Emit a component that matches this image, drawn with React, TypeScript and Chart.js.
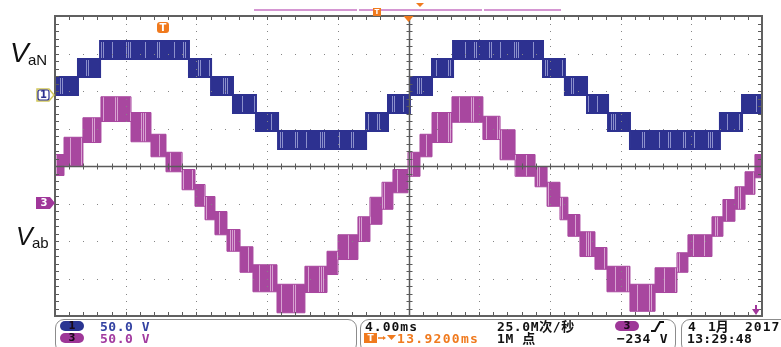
import React, { useEffect, useRef } from 'react';
import { Chart, registerables } from 'chart.js';
Chart.register(...registerables);

// time axis: ms, 4 ms/div, 10 divisions
const X_MIN = 0;
const X_MAX = 40;
// channel 1 (VaN) and channel 3 (Vab): 50 V/div, 8 divisions, offsets set by range
const CH1_MIN = -294.7;
const CH1_MAX = 105.3;
const CH3_MIN = -151.3;
const CH3_MAX = 248.7;

// Ch1 VaN: staircase bands (start time ms, lower / upper level V)
const blueT = [0, 1.3, 2.55, 7.58, 8.83, 10.07, 11.37, 12.62, 17.6, 18.84, 20.08, 21.33, 22.52, 27.61, 28.85, 30.1, 31.29, 32.53, 37.62, 38.87];
const blueLo = [0, 24, 48, 24, 0, -24, -48, -72, -48, -24, 0, 24, 48, 24, 0, -24, -48, -72, -48, -24];
const blueHi = [24, 48, 72, 48, 24, 0, -24, -48, -24, 0, 24, 48, 72, 48, 24, 0, -24, -48, -24, 0];

// Ch3 Vab: staircase bands
const purpleT = [0, 0.51, 1.58, 2.6, 4.3, 5.43, 6.28, 7.19, 7.92, 8.49, 9.05, 9.73, 10.47, 11.2, 12.56, 14.14, 15.39, 16.01, 17.14, 17.82, 18.5, 19.12,
  19.97, 20.65, 21.33, 22.46, 24.21, 25.18, 26.03, 27.16, 27.84, 28.57, 29.02, 29.7, 30.55, 31.23, 32.53, 33.95, 35.19, 35.81, 37.17, 37.79, 38.47, 39.04, 39.6];
const purpleHi = [64, 87, 113, 141, 120, 91, 67, 44, 24, 8, -12, -36, -59, -83, -109, -85, -65, -43, -19, 7, 27, 44,
  67, 91, 120, 141, 115, 97, 64, 48, 27, 7, -16, -39, -60, -85, -109, -87, -67, -43, -19, 4, 21, 41, 64];
const purpleLo = [36, 49, 80, 108, 81, 61, 41, 17, -5, -23, -43, -65, -93, -119, -147, -120, -96, -76, -52, -29, -9, 13,
  35, 61, 80, 107, 84, 57, 35, 21, -5, -23, -45, -72, -89, -119, -145, -120, -93, -72, -45, -25, -9, 11, 33];

const BLUE = '#2d3190';
const BLUE_LIGHT = '#8c90cc';
const PURPLE = '#a8479f';
const PURPLE_LIGHT = '#d8a2d2';
const ORANGE = '#f07a1e';

function stepPoints(t: number[], v: number[]) {
  const pts = t.map((x, i) => ({ x, y: v[i] }));
  pts.push({ x: X_MAX, y: v[v.length - 1] });
  return pts;
}

function stripePattern(ctx: CanvasRenderingContext2D, base: string, light: string, width: number, offsets: number[]) {
  const c = document.createElement('canvas');
  c.width = width;
  c.height = 4;
  const g = c.getContext('2d')!;
  g.fillStyle = base;
  g.fillRect(0, 0, width, 4);
  g.fillStyle = light;
  offsets.forEach((o) => g.fillRect(o, 0, 1, 4));
  return ctx.createPattern(c, 'repeat');
}

const graticule = {
  id: 'graticule',
  afterDatasetsDraw(chart: any) {
    const { ctx, chartArea: a } = chart;
    const L = a.left, R = a.right, T = a.top, B = a.bottom;
    const dx = (R - L) / 10, dy = (B - T) / 8;
    ctx.save();
    ctx.fillStyle = '#858585';
    for (let i = 1; i < 10; i++) {
      if (i === 5) continue;
      const x = Math.round(L + i * dx);
      for (let j = 1; j < 40; j++) ctx.fillRect(x, Math.round(T + (j * dy) / 5), 1, 1);
    }
    for (let j = 1; j < 8; j++) {
      if (j === 4) continue;
      const y = Math.round(T + j * dy);
      for (let i = 1; i < 50; i++) ctx.fillRect(Math.round(L + (i * dx) / 5), y, 1, 1);
    }
    const line = (x1: number, y1: number, x2: number, y2: number) => {
      ctx.beginPath();
      ctx.moveTo(x1, y1);
      ctx.lineTo(x2, y2);
      ctx.stroke();
    };
    const cx = Math.round((L + R) / 2) + 0.5;
    const cy = Math.round((T + B) / 2) + 0.5;
    ctx.strokeStyle = '#5a5a5a';
    ctx.lineWidth = 1.5;
    line(cx, T, cx, B);
    line(L, cy, R, cy);
    ctx.lineWidth = 1;
    for (let i = 1; i < 50; i++) {
      const x = Math.round(L + (i * dx) / 5) + 0.5;
      line(x, cy - 3, x, cy + 3);
      line(x, T, x, T + 4);
      line(x, B - 4, x, B);
    }
    for (let j = 1; j < 40; j++) {
      const y = Math.round(T + (j * dy) / 5) + 0.5;
      line(cx - 3, y, cx + 3, y);
      line(L, y, L + 4, y);
      line(R - 4, y, R, y);
    }
    ctx.strokeStyle = '#606060';
    ctx.lineWidth = 2;
    ctx.strokeRect(L, T, R - L, B - T);
    ctx.restore();
  },
};

const markers = {
  id: 'markers',
  afterDraw(chart: any) {
    const { ctx } = chart;
    const y1 = Math.round(chart.scales.y1.getPixelForValue(0));
    const y3 = Math.round(chart.scales.y3.getPixelForValue(0));
    ctx.save();
    // channel 1 marker
    ctx.beginPath();
    ctx.moveTo(37, y1 - 6);
    ctx.lineTo(49, y1 - 6);
    ctx.lineTo(54, y1);
    ctx.lineTo(49, y1 + 6);
    ctx.lineTo(37, y1 + 6);
    ctx.closePath();
    ctx.fillStyle = '#ffffff';
    ctx.fill();
    ctx.strokeStyle = '#d2c85a';
    ctx.lineWidth = 1.5;
    ctx.stroke();
    ctx.beginPath();
    ctx.roundRect(38, y1 - 5, 11, 10, 2);
    ctx.strokeStyle = BLUE;
    ctx.lineWidth = 1.2;
    ctx.stroke();
    ctx.fillStyle = BLUE;
    ctx.font = 'bold 10px "DejaVu Sans"';
    ctx.textAlign = 'center';
    ctx.textBaseline = 'middle';
    ctx.fillText('1', 43.5, y1 + 0.5);
    // channel 3 marker
    ctx.beginPath();
    ctx.moveTo(36, y3 - 6);
    ctx.lineTo(50, y3 - 6);
    ctx.lineTo(55, y3);
    ctx.lineTo(50, y3 + 6);
    ctx.lineTo(36, y3 + 6);
    ctx.closePath();
    ctx.fillStyle = '#a0369a';
    ctx.fill();
    ctx.fillStyle = '#ffffff';
    ctx.fillText('3', 44, y3 + 0.5);
    // trigger level marker (ch3, below screen)
    const a = chart.chartArea;
    ctx.beginPath();
    ctx.moveTo(a.right - 10, a.bottom - 7);
    ctx.lineTo(a.right - 2, a.bottom - 7);
    ctx.lineTo(a.right - 6, a.bottom - 1);
    ctx.closePath();
    ctx.fillStyle = '#a0369a';
    ctx.fill();
    ctx.fillRect(a.right - 7, a.bottom - 11, 2, 5);
    // trigger position marker
    const xt = chart.scales.x.getPixelForValue((X_MIN + X_MAX) / 2);
    ctx.beginPath();
    ctx.moveTo(xt - 5, a.top);
    ctx.lineTo(xt + 5, a.top);
    ctx.lineTo(xt, a.top + 6);
    ctx.closePath();
    ctx.fillStyle = ORANGE;
    ctx.fill();
    ctx.restore();
  },
};

const mono = '"DejaVu Sans Mono", "Noto Sans CJK SC", monospace';

function Txt(p: { x: number; y: number; c: string; s: string; ls?: number }) {
  return (
    <div
      style={{
        position: 'absolute',
        left: p.x,
        top: p.y,
        color: p.c,
        font: `bold 13px ${mono}`,
        lineHeight: '13px',
        letterSpacing: (p.ls ?? 0) + 'px',
        whiteSpace: 'pre',
      }}
    >
      {p.s}
    </div>
  );
}

function Oval(p: { x: number; y: number; fill: string; s: string }) {
  return (
    <div
      style={{
        position: 'absolute',
        left: p.x,
        top: p.y,
        width: 24,
        height: 10,
        borderRadius: 5,
        background: p.fill,
        color: '#1a0a1a',
        font: 'bold 10px "DejaVu Sans"',
        lineHeight: '10px',
        textAlign: 'center',
      }}
    >
      {p.s}
    </div>
  );
}

export default function App() {
  const ref = useRef<HTMLCanvasElement>(null);
  useEffect(() => {
    const canvas = ref.current!;
    const ctx = canvas.getContext('2d')!;
    const bluePat = stripePattern(ctx, BLUE, BLUE_LIGHT, 97, [4, 6, 15, 29, 31, 33, 48, 60, 62, 77, 86, 88]);
    const purplePat = stripePattern(ctx, PURPLE, PURPLE_LIGHT, 89, [3, 5, 14, 26, 28, 41, 52, 54, 56, 70, 81]);
    const chart = new Chart(canvas, {
      type: 'line',
      data: {
        datasets: [
          { label: 'VaN hi', data: stepPoints(blueT, blueHi), yAxisID: 'y1', stepped: true, borderColor: BLUE, borderWidth: 2, pointRadius: 0, fill: false },
          { label: 'VaN lo', data: stepPoints(blueT, blueLo), yAxisID: 'y1', stepped: true, borderColor: BLUE, borderWidth: 2, pointRadius: 0, fill: '-1', backgroundColor: bluePat as any },
          { label: 'Vab hi', data: stepPoints(purpleT, purpleHi), yAxisID: 'y3', stepped: true, borderColor: PURPLE, borderWidth: 1, pointRadius: 0, fill: false },
          { label: 'Vab lo', data: stepPoints(purpleT, purpleLo), yAxisID: 'y3', stepped: true, borderColor: PURPLE, borderWidth: 1, pointRadius: 0, fill: '-1', backgroundColor: purplePat as any },
        ],
      },
      options: {
        responsive: false,
        animation: false,
        events: [],
        layout: { padding: { left: 55, top: 16, right: 19, bottom: 31 } },
        plugins: { legend: { display: false }, tooltip: { enabled: false } },
        scales: {
          x: { type: 'linear', min: X_MIN, max: X_MAX, display: false },
          y1: { type: 'linear', min: CH1_MIN, max: CH1_MAX, display: false },
          y3: { type: 'linear', min: CH3_MIN, max: CH3_MAX, display: false },
        },
      },
      plugins: [graticule, markers],
    });
    return () => chart.destroy();
  }, []);

  const box = (x: number, w: number) => (
    <div
      style={{
        position: 'absolute',
        left: x,
        top: 319,
        width: w,
        height: 34,
        border: '1px solid #8c8c8c',
        borderRadius: 9,
        boxSizing: 'border-box',
      }}
    />
  );

  return (
    <div style={{ position: 'fixed', left: 0, top: 0, width: 781, height: 347, background: '#fff', overflow: 'hidden' }}>
      <canvas ref={ref} width={781} height={347} style={{ position: 'absolute', left: 0, top: 0 }} />
      {/* memory bar */}
      <div style={{ position: 'absolute', left: 254, top: 9, width: 103, height: 2, background: '#d596d2' }} />
      <div style={{ position: 'absolute', left: 359, top: 9, width: 123, height: 2, background: '#d596d2' }} />
      <div style={{ position: 'absolute', left: 484, top: 9, width: 77, height: 2, background: '#d596d2' }} />
      <div style={{ position: 'absolute', left: 373, top: 8, width: 8, height: 8, background: ORANGE, color: '#fff', font: 'bold 7px "DejaVu Sans"', lineHeight: '8px', textAlign: 'center' }}>T</div>
      <svg style={{ position: 'absolute', left: 416, top: 3 }} width={9} height={6}>
        <polygon points="0,0 8,0 4,4" fill={ORANGE} />
      </svg>
      {/* trigger T marker */}
      <div style={{ position: 'absolute', left: 157, top: 22, width: 12, height: 11, borderRadius: 3, background: ORANGE, color: '#fff', font: 'bold 10px "DejaVu Sans"', lineHeight: '11px', textAlign: 'center' }}>T</div>
      {/* labels */}
      <div style={{ position: 'absolute', left: 10, top: 39, font: 'italic 28px "Liberation Sans"', lineHeight: '28px', color: '#111' }}>V</div>
      <div style={{ position: 'absolute', left: 28, top: 52, font: '15px "Liberation Sans"', lineHeight: '15px', color: '#111' }}>aN</div>
      <div style={{ position: 'absolute', left: 16, top: 224, font: 'italic 25px "Liberation Sans"', lineHeight: '25px', color: '#111' }}>V</div>
      <div style={{ position: 'absolute', left: 32, top: 235, font: '15px "Liberation Sans"', lineHeight: '15px', color: '#111' }}>ab</div>
      {/* status bar */}
      {box(55, 302)}
      {box(360, 316)}
      {box(681, 120)}
      <Oval x={60} y={321} fill="#2a3592" s="1" />
      <Txt x={100} y={320} c="#3342a2" s="50.0 V" ls={0.5} />
      <Oval x={60} y={333} fill="#9e3798" s="3" />
      <Txt x={100} y={332} c="#a23ba0" s="50.0 V" ls={0.5} />
      <Txt x={365} y={320} c="#111" s="4.00ms" ls={1} />
      <Txt x={497} y={320} c="#111" s="25.0M次/秒" ls={0.6} />
      <div style={{ position: 'absolute', left: 364, top: 333, width: 13, height: 10, background: ORANGE, color: '#fff', font: 'bold 9px "DejaVu Sans"', lineHeight: '10px', textAlign: 'center' }}>T</div>
      <svg style={{ position: 'absolute', left: 378, top: 333 }} width={20} height={10}>
        <line x1={0} y1={5} x2={6} y2={5} stroke={ORANGE} strokeWidth={1.5} />
        <polygon points="5,3 8,5 5,7" fill={ORANGE} />
        <polygon points="9,2 18,2 13.5,7" fill={ORANGE} />
      </svg>
      <Txt x={397} y={332} c={ORANGE} s="13.9200ms" ls={1.3} />
      <Txt x={497} y={332} c="#111" s="1M 点" ls={0.6} />
      <Oval x={615} y={321} fill="#9e3798" s="3" />
      <svg style={{ position: 'absolute', left: 650, top: 321 }} width={16} height={11}>
        <polyline points="1,10 5,10 10,1 14,1" fill="none" stroke="#111" strokeWidth={2} />
      </svg>
      <Txt x={617} y={332} c="#111" s="−234 V" ls={0.7} />
      <Txt x={688} y={320} c="#111" s="4" />
      <Txt x={708} y={320} c="#111" s="1月" />
      <Txt x={745} y={320} c="#111" s="2017" ls={1} />
      <Txt x={687} y={332} c="#111" s="13:29:48" ls={0.3} />
    </div>
  );
}
